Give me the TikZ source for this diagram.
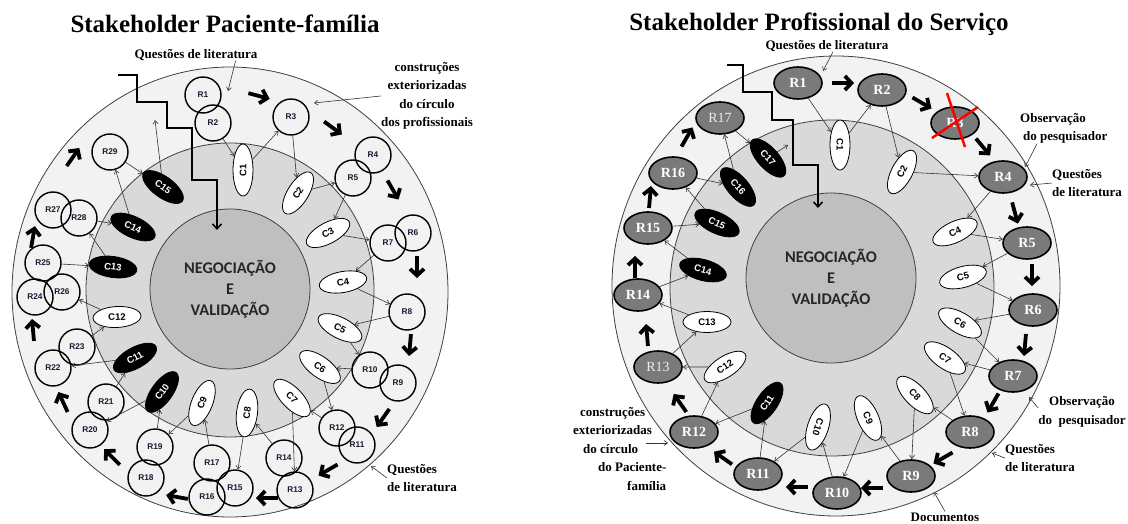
\documentclass[tikz,border=0pt]{standalone}
\usepackage{fontspec}
\setmainfont{Liberation Serif}
\newfontfamily\sansf{Liberation Sans}
\newfontfamily\calib{Carlito}
\usetikzlibrary{shapes.geometric,arrows.meta}
\definecolor{outerc}{HTML}{F2F2F2}
\definecolor{midc}{HTML}{D9D9D9}
\definecolor{cenc}{HTML}{BFBFBF}
\definecolor{ringl}{HTML}{404040}
\definecolor{rgrey}{HTML}{7A7A7A}
\definecolor{navy}{HTML}{1A1A33}
\definecolor{negc}{HTML}{262626}
\newcommand\bigarr[3]{\draw[bigarrow] (#1,#2) ++({-(#3)-180}:11) -- ++({-(#3)}:22);}
\tikzset{
  ringline/.style={draw=ringl, line width=0.8pt},
  cencirc/.style={circle, draw=ringl, line width=0.8pt, fill=cenc, inner sep=0pt, align=center, text=negc, font=\calib\bfseries\fontsize{16.3}{21}\selectfont},
  lr/.style={circle, draw=black, line width=1.4pt, minimum size=36pt, inner sep=0pt, text=navy, font=\sansf\bfseries\fontsize{8.3}{8.3}\selectfont},
  cw/.style={ellipse, draw=black, line width=0.8pt, fill=white, minimum width=48pt, minimum height=21pt, inner sep=0pt, text=black, font=\sansf\bfseries\fontsize{9.5}{9.5}\selectfont},
  cb/.style={cw, fill=black, text=white},
  rr/.style={ellipse, draw=black, line width=1.6pt, fill=rgrey, minimum width=48pt, minimum height=32pt, inner sep=0pt, text=white, font=\bfseries\fontsize{14}{14}\selectfont},
  rrl/.style={rr, text=gray!15, font=\fontsize{14}{14}\selectfont},
  conn/.style={-{Straight Barb[length=3.5pt,width=5pt]}, line width=0.6pt, draw=black!80},
  bigarrow/.style={-{Straight Barb[length=6.5pt,width=14pt]}, line width=3.8pt, draw=black},
  steparrow/.style={-{Straight Barb[length=5pt,width=9pt]}, line width=1.5pt, draw=black},
  lab/.style={font=\bfseries\fontsize{13}{18.5}\selectfont, text=black, inner sep=0pt},
  title/.style={font=\bfseries\fontsize{25}{25}\selectfont, inner sep=0pt},
}
\begin{document}
\begin{tikzpicture}[x=1pt,y=-1pt]
\useasboundingbox (0,0) rectangle (1128,524);
\fill[white] (0,0) rectangle (1128,524);

% ---------------- titles ----------------
\node[title] (lt) at (225,24) {Stakeholder Paciente-família};
\node[title] (rt) at (819,24) {Stakeholder Profissional do Serviço};

% ================= LEFT DIAGRAM =================
\draw[ringline, fill=outerc] (230,292) ellipse [x radius=218, y radius=225];
\draw[ringline, fill=midc] (230,290) ellipse [x radius=144, y radius=147];
\node[cencirc, minimum size=160pt] (lneg) at (230,289) {NEGOCIAÇÃO\\E\\VALIDAÇÃO};

\draw[steparrow] (118,75) -- (137,75) -- (137,102) -- (167,102) -- (167,128) -- (192,128) -- (192,180) -- (217,180) -- (217,230);

% R circles
\node[lr] (lR1) at (203,95) {R1};
\node[lr] (lR2) at (213,123) {R2};
\node[lr] (lR3) at (291,117) {R3};
\node[lr] (lR4) at (373,155) {R4};
\node[lr] (lR5) at (353,178) {R5};
\node[lr] (lR6) at (413,233) {R6};
\node[lr] (lR7) at (388,243) {R7};
\node[lr] (lR8) at (407,312) {R8};
\node[lr] (lR9) at (398,383) {R9};
\node[lr] (lR10) at (370,370) {R10};
\node[lr] (lR11) at (357,445) {R11};
\node[lr] (lR12) at (337,428) {R12};
\node[lr] (lR13) at (295,490) {R13};
\node[lr] (lR14) at (284,458) {R14};
\node[lr] (lR15) at (235,488) {R15};
\node[lr] (lR16) at (207,497) {R16};
\node[lr] (lR17) at (212,463) {R17};
\node[lr] (lR18) at (146,478) {R18};
\node[lr] (lR19) at (155,447) {R19};
\node[lr] (lR20) at (90,430) {R20};
\node[lr] (lR21) at (106,402) {R21};
\node[lr] (lR22) at (53,368) {R22};
\node[lr] (lR23) at (77,347) {R23};
\node[lr] (lR24) at (35,297) {R24};
\node[lr] (lR25) at (43,263) {R25};
\node[lr] (lR26) at (62,292) {R26};
\node[lr] (lR27) at (53,210) {R27};
\node[lr] (lR28) at (79,218) {R28};
\node[lr] (lR29) at (110,152) {R29};

% C ellipses
\node[cw, rotate=90, minimum width=52pt, minimum height=20pt] (lC1) at (243,170) {C1};
\node[cw, rotate=58] (lC2) at (298,193) {C2};
\node[cw, rotate=28] (lC3) at (328,233) {C3};
\node[cw, rotate=10] (lC4) at (343,282) {C4};
\node[cw, rotate=-27] (lC5) at (340,328) {C5};
\node[cw, rotate=-36] (lC6) at (320,367) {C6};
\node[cw, rotate=-46] (lC7) at (292,398) {C7};
\node[cw, rotate=83] (lC8) at (247,413) {C8};
\node[cw, rotate=68] (lC9) at (202,403) {C9};
\node[cb, rotate=54] (lC10) at (162,392) {C10};
\node[cb, rotate=29] (lC11) at (135,358) {C11};
\node[cw, rotate=3] (lC12) at (117,317) {C12};
\node[cb, rotate=-8] (lC13) at (113,267) {C13};
\node[cb, rotate=-25] (lC14) at (133,227) {C14};
\node[cb, rotate=-36] (lC15) at (163,187) {C15};

% connectors
\coordinate (lup) at (155,120);
\draw[conn] (lR2) -- (lC1);
\draw[conn] (lC1) -- (lR3);
\draw[conn] (lR3) -- (lC2);
\draw[conn] (lC2) -- (lR5);
\draw[conn] (lR5) -- (lC3);
\draw[conn] (lC3) -- (lR7);
\draw[conn] (lR7) -- (lC4);
\draw[conn] (lC4) -- (lR8);
\draw[conn] (lR8) -- (lC5);
\draw[conn] (lC5) -- (lR10);
\draw[conn] (lR10) -- (lC6);
\draw[conn] (lC6) -- (lR12);
\draw[conn] (lR12) -- (lC7);
\draw[conn] (lC7) -- (lR13);
\draw[conn] (lR14) -- (lC8);
\draw[conn] (lC8) -- (lR15);
\draw[conn] (lR17) -- (lC9);
\draw[conn] (lC9) -- (lR19);
\draw[conn] (lR19) -- (lC10);
\draw[conn] (lC10) -- (lR20);
\draw[conn] (lR21) -- (lC11);
\draw[conn] (lC11) -- (lR22);
\draw[conn] (lR23) -- (lC12);
\draw[conn] (lC12) -- (lR26);
\draw[conn] (lR25) -- (lC13);
\draw[conn] (lC13) -- (lR28);
\draw[conn] (lR28) -- (lC14);
\draw[conn] (lC14) -- (lR29);
\draw[conn] (lR29) -- (lC15);
\draw[conn] (lC15) -- (lup);

% thick arrows
\bigarr{259}{96}{-15}
\bigarr{333}{128}{-36}
\bigarr{393}{190}{-60}
\bigarr{417}{267}{-90}
\bigarr{410}{345}{-95}
\bigarr{383}{418}{-125}
\bigarr{328}{470}{-150}
\bigarr{267}{498}{180}
\bigarr{177}{497}{170}
\bigarr{112}{457}{135}
\bigarr{63}{402}{115}
\bigarr{33}{330}{95}
\bigarr{33}{237}{80}
\bigarr{73}{157}{55}

% labels
\node[lab] (lq1) at (196,55) {Questões de literatura};
\coordinate (lq1t) at (228,91);
\draw[conn] ([xshift=-22pt]lq1.south east) -- (lq1t);
\node[lab, align=center] (lcx) at (427,96) {construções\\exteriorizadas\\do círculo\\dos profissionais};
\coordinate (lcxt) at (314,103);
\draw[conn] (lcx.west) -- (lcxt);
\node[lab, align=left, anchor=north west] (lq2) at (387,464) {Questões\\de literatura};
\coordinate (lq2t) at (371,466);
\draw[conn] (lq2.west) -- (lq2t);

% ================= RIGHT DIAGRAM =================
\draw[ringline, fill=outerc] (836,286) ellipse [x radius=224, y radius=230];
\draw[ringline, fill=midc] (832,288) ellipse [x radius=162, y radius=168];
\node[cencirc, minimum size=170pt] (rneg) at (831,278) {NEGOCIAÇÃO\\E\\VALIDAÇÃO};

\draw[steparrow] (727,65) -- (743,65) -- (743,92) -- (772,92) -- (772,120) -- (793,120) -- (793,165) -- (818,165) -- (818,208);

% R ellipses
\node[rr] (rR1) at (798,83) {R1};
\node[rr] (rR2) at (882,90) {R2};
\node[rr] (rR3) at (955,123) {R3};
\node[rr] (rR4) at (1003,177) {R4};
\node[rr] (rR5) at (1027,243) {R5};
\node[rr] (rR6) at (1033,310) {R6};
\node[rr] (rR7) at (1013,376) {R7};
\node[rr] (rR8) at (970,432) {R8};
\node[rr] (rR9) at (911,476) {R9};
\node[rr] (rR10) at (837,493) {R10};
\node[rr] (rR11) at (758,474) {R11};
\node[rr] (rR12) at (694,432) {R12};
\node[rrl] (rR13) at (658,367) {R13};
\node[rr] (rR14) at (638,295) {R14};
\node[rr] (rR15) at (648,228) {R15};
\node[rr] (rR16) at (673,173) {R16};
\node[rrl] (rR17) at (720,118) {R17};

% C ellipses
\node[cw, rotate=-90, minimum width=50pt, minimum height=20pt] (rC1) at (840,145) {C1};
\node[cw, rotate=62] (rC2) at (902,172) {C2};
\node[cw, rotate=25] (rC4) at (955,232) {C4};
\node[cw, rotate=15] (rC5) at (963,277) {C5};
\node[cw, rotate=-30] (rC6) at (960,323) {C6};
\node[cw, rotate=-35] (rC7) at (945,358) {C7};
\node[cw, rotate=-46] (rC8) at (915,395) {C8};
\node[cw, rotate=-66] (rC9) at (868,418) {C9};
\node[cw, rotate=-108] (rC10) at (818,427) {C10};
\node[cb, rotate=56] (rC11) at (767,403) {C11};
\node[cw, rotate=33] (rC12) at (725,367) {C12};
\node[cw, rotate=0] (rC13) at (707,322) {C13};
\node[cb, rotate=-15] (rC14) at (703,270) {C14};
\node[cb, rotate=-25] (rC15) at (717,223) {C15};
\node[cb, rotate=-49] (rC16) at (738,187) {C16};
\node[cb, rotate=-48] (rC17) at (768,158) {C17};

% red cross on R3
\draw[red, line width=2.5pt] (947,93) -- (965,147);
\draw[red, line width=2.5pt] (932,138) -- (978,107);

% connectors
\coordinate (rup) at (788,145);
\draw[conn] (rR1) -- (rC1);
\draw[conn] (rC1) -- (rR2);
\draw[conn] (rR2) -- (rC2);
\draw[conn] (rC2) -- (rR4);
\draw[conn] (rR4) -- (rC4);
\draw[conn] (rC4) -- (rR5);
\draw[conn] (rR5) -- (rC5);
\draw[conn] (rC5) -- (rR6);
\draw[conn] (rR6) -- (rC6);
\draw[conn] (rC6) -- (rR7);
\draw[conn] (rR7) -- (rC7);
\draw[conn] (rC7) -- (rR8);
\draw[conn] (rR8) -- (rC8);
\draw[conn] (rC8) -- (rR9);
\draw[conn] (rR9) -- (rC9);
\draw[conn] (rC9) -- (rR10);
\draw[conn] (rR10) -- (rC10);
\draw[conn] (rC10) -- (rR11);
\draw[conn] (rR11) -- (rC11);
\draw[conn] (rC11) -- (rR12);
\draw[conn] (rR12) -- (rC12);
\draw[conn] (rC12) -- (rR13);
\draw[conn] (rR13) -- (rC13);
\draw[conn] (rC13) -- (rR14);
\draw[conn] (rR14) -- (rC14);
\draw[conn] (rC14) -- (rR15);
\draw[conn] (rR15) -- (rC15);
\draw[conn] (rC15) -- (rR16);
\draw[conn] (rR16) -- (rC16);
\draw[conn] (rC16) -- (rR17);
\draw[conn] (rR17) -- (rC17);
\draw[conn] (rC17) -- (rup);

% thick arrows
\bigarr{843}{83}{0}
\bigarr{922}{103}{-30}
\bigarr{983}{147}{-50}
\bigarr{1015}{213}{-75}
\bigarr{1032}{275}{-90}
\bigarr{1025}{345}{-95}
\bigarr{993}{403}{-120}
\bigarr{943}{458}{-150}
\bigarr{872}{488}{180}
\bigarr{797}{487}{180}
\bigarr{723}{458}{145}
\bigarr{680}{403}{125}
\bigarr{647}{335}{95}
\bigarr{635}{267}{90}
\bigarr{650}{197}{85}
\bigarr{687}{137}{60}

% labels
\node[lab] (rq1) at (827,46) {Questões de literatura};
\coordinate (rq1t) at (823,71);
\draw[conn] ([xshift=6pt]rq1.south) -- (rq1t);
\node[lab, align=left, anchor=north west] (rob1) at (1020,113) {Observação\\\hspace*{3pt}do pesquisador};
\coordinate (rob1t) at (1025,167);
\draw[conn] ([xshift=17pt]rob1.south west) -- (rob1t);
\node[lab, align=left, anchor=north west] (rq2) at (1052,169) {Questões\\de literatura};
\coordinate (rq2t) at (1030,185);
\draw[conn] (rq2.west) -- (rq2t);
\node[lab, align=center] (rob2) at (1082,412) {Observação\\do\ \ pesquisador};
\coordinate (rob2t) at (1029,397);
\draw[conn] ([yshift=4pt]rob2.west) -- (rob2t);
\node[lab, align=left, anchor=north west] (rq3) at (1005,444) {Questões\\de literatura};
\coordinate (rq3t) at (992,453);
\draw[conn] (rq3.west) -- (rq3t);
\node[lab] (rdoc) at (945,517) {Documentos};
\coordinate (rdoct) at (934,492);
\draw[conn] ([yshift=1pt]rdoc.north) -- (rdoct);
\node[lab, align=left, anchor=north west] (rcx) at (573,407) {\hspace*{7pt}construções\\exteriorizadas\\\hspace*{10pt}do círculo\\\hspace*{25pt}do Paciente-\\\hspace*{54pt}família};
\coordinate (rcxt) at (668,443);
\draw[conn] ([xshift=73pt,yshift=-36pt]rcx.north west) -- (rcxt);
\end{tikzpicture}
\end{document}
